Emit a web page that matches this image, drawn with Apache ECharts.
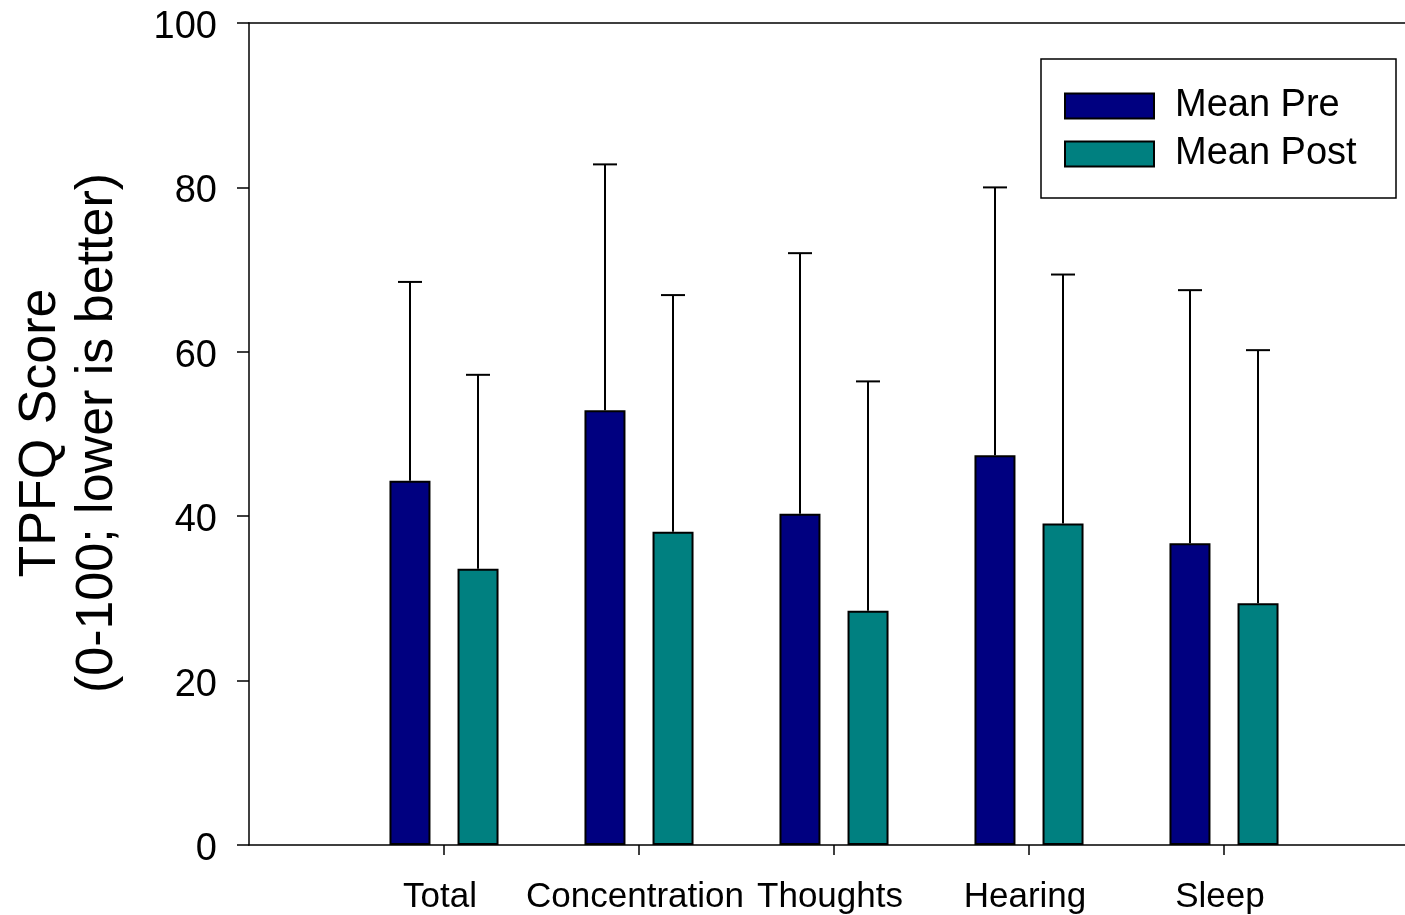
<!DOCTYPE html>
<html>
<head>
<meta charset="utf-8">
<title>TPFQ Score</title>
<script src="https://cdn.jsdelivr.net/npm/echarts@6/dist/echarts.min.js"></script>
<style>
  html, body { margin: 0; padding: 0; background: #fff; }
  #chart { width: 1405px; height: 915px; }
</style>
</head>
<body>
<div id="chart"></div>
<script>
// Subscales of the questionnaire
const categories = ['Total', 'Concentration', 'Thoughts', 'Hearing', 'Sleep'];
// Means before and after
const meanPre  = [44.3, 52.9, 40.3, 47.4, 36.7];
const meanPost = [33.6, 38.1, 28.5, 39.1, 29.4];
// Standard deviations (upward error bars)
const sdPre  = [24.2, 29.9, 31.7, 32.6, 30.8];
const sdPost = [23.6, 28.8, 27.9, 30.3, 30.8];
const yTicks = [0, 20, 40, 60, 80, 100];

const FONT = "'Liberation Sans', Arial, sans-serif";
const PRE_COLOR = '#000080';
const POST_COLOR = '#008080';
const BAR_OFFSET = 34;   // px from the category tick to each bar centre
const CAP_HALF = 12;     // half width of the error bar cap

// The axis has an empty slot before the first and after the last category
const axisCats = [''].concat(categories, ['']);
const pad = arr => [null].concat(arr, [null]);

function errorData(means, sds) {
  return means.map((m, i) => [i + 1, m, m + sds[i]]);
}

function errorRenderer(offset) {
  return function (params, api) {
    const idx = api.value(0);
    const base = api.coord([idx, api.value(1)]);
    const top = api.coord([idx, api.value(2)]);
    const x = base[0] + offset;
    const style = { stroke: '#000', lineWidth: 2 };
    return {
      type: 'group',
      children: [
        { type: 'line', shape: { x1: x, y1: base[1], x2: x, y2: top[1] }, style: style },
        { type: 'line', shape: { x1: x - CAP_HALF, y1: top[1], x2: x + CAP_HALF, y2: top[1] }, style: style }
      ]
    };
  };
}

const chart = echarts.init(document.getElementById('chart'), null, { renderer: 'canvas' });

chart.setOption({
  animation: false,
  backgroundColor: '#fff',
  grid: { left: 249, top: 23, width: 1170, height: 822, outerBoundsMode: 'none', containLabel: false },
  legend: {
    orient: 'vertical',
    left: 1064,
    top: 87,
    padding: 0,
    icon: 'rect',
    itemWidth: 89,
    itemHeight: 25,
    itemGap: 10,
    z: 5,
    selectedMode: false,
    data: ['Mean Pre', 'Mean Post'],
    itemStyle: { borderColor: '#000', borderWidth: 2 },
    textStyle: { fontFamily: FONT, fontSize: 38, color: '#000', padding: [0, 0, 0, 16] }
  },
  graphic: [
    {
      type: 'rect',
      z: 1,
      shape: { x: 1041, y: 59, width: 355, height: 139 },
      style: { fill: '#fff', stroke: '#000', lineWidth: 1.5 }
    },
    {
      type: 'text',
      x: 69,
      y: 433,
      rotation: Math.PI / 2,
      style: {
        text: 'TPFQ Score\n(0-100; lower is better)',
        font: '52px ' + FONT,
        fill: '#000',
        align: 'center',
        verticalAlign: 'middle',
        lineHeight: 57
      }
    }
  ],
  xAxis: [
    {
      type: 'category',
      data: axisCats,
      boundaryGap: false,
      axisLine: { lineStyle: { color: '#000', width: 1.5 } },
      axisTick: {
        length: 10,
        interval: (index, value) => value !== '',
        lineStyle: { color: '#000', width: 1.5 }
      },
      axisLabel: {
        interval: 0,
        margin: 35,
        fontFamily: FONT,
        fontSize: 35,
        color: '#000',
        padding: [0, 8, 0, 0]
      },
      splitLine: { show: false }
    },
    {
      type: 'category',
      data: axisCats,
      position: 'top',
      boundaryGap: false,
      axisLine: { lineStyle: { color: '#000', width: 1.5 } },
      axisTick: { show: false },
      axisLabel: { show: false },
      splitLine: { show: false }
    }
  ],
  yAxis: {
    type: 'value',
    min: yTicks[0],
    max: yTicks[yTicks.length - 1],
    interval: yTicks[1] - yTicks[0],
    axisLine: { show: true, lineStyle: { color: '#000', width: 1.5 } },
    axisTick: { show: true, length: 12, lineStyle: { color: '#000', width: 1.5 } },
    axisLabel: {
      margin: 32,
      formatter: '{v|{value}}',
      rich: {
        v: { fontFamily: FONT, fontSize: 38, color: '#000', padding: [9, 0, 0, 0] }
      }
    },
    splitLine: { show: false }
  },
  series: [
    {
      name: 'Mean Pre',
      type: 'bar',
      data: pad(meanPre),
      barWidth: 41,
      barGap: '66%',
      itemStyle: { color: PRE_COLOR, borderColor: '#000', borderWidth: 2 },
      z: 2
    },
    {
      name: 'Mean Post',
      type: 'bar',
      data: pad(meanPost),
      barWidth: 41,
      barGap: '66%',
      itemStyle: { color: POST_COLOR, borderColor: '#000', borderWidth: 2 },
      z: 2
    },
    {
      type: 'custom',
      renderItem: errorRenderer(-BAR_OFFSET),
      data: errorData(meanPre, sdPre),
      encode: { x: 0, y: [1, 2] },
      z: 3,
      silent: true
    },
    {
      type: 'custom',
      renderItem: errorRenderer(BAR_OFFSET),
      data: errorData(meanPost, sdPost),
      encode: { x: 0, y: [1, 2] },
      z: 3,
      silent: true
    }
  ]
});
</script>
</body>
</html>
